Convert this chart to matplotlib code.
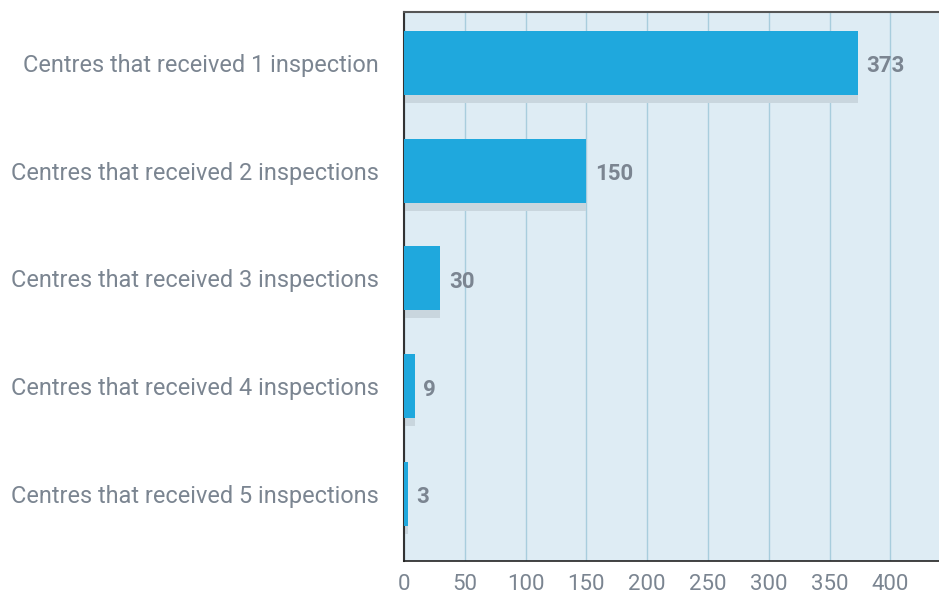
import numpy as np
import matplotlib.pyplot as plt

categories = ['Centres that received 1 inspection',
              'Centres that received 2 inspections',
              'Centres that received 3 inspections',
              'Centres that received 4 inspections',
              'Centres that received 5 inspections']
counts = [373, 150, 30, 9, 3]
xticks = [0, 50, 100, 150, 200, 250, 300, 350, 400]

bar_color = '#1fa8dd'
shadow_color = '#c9d6de'
bg_color = '#deecf4'
grid_color = '#a8cddd'
text_color = '#7b8591'

plt.rcParams['font.family'] = ['Roboto', 'DejaVu Sans']

fig = plt.figure(figsize=(9.39, 5.95), dpi=100)
ax = fig.add_axes([404 / 939, 1 - 561 / 595, 1 - 404 / 939, (561 - 12) / 595])
ax.set_facecolor(bg_color)

y = np.arange(len(categories))
h = 0.594
# grey drop shadow under each bar
ax.barh(y + 0.074, counts, height=h, color=shadow_color, zorder=2)
ax.barh(y, counts, height=h, color=bar_color, zorder=3)

for yi, v in zip(y, counts):
    ax.text(v + 7, yi + 0.03, str(v), va='center', ha='left', fontsize=16,
            fontweight='bold', color=text_color, zorder=4)

ax.set_xlim(0, 440)
ax.set_ylim(4.62, -0.47)
ax.set_xticks(xticks)
ax.set_xticklabels([str(t) for t in xticks], fontsize=16, color=text_color)
ax.set_yticks(y)
ax.set_yticklabels(categories, color=text_color, fontsize=16.9)
ax.tick_params(axis='both', length=0)
ax.tick_params(axis='x', pad=9)
ax.tick_params(axis='y', pad=18)

ax.set_axisbelow(True)
ax.grid(axis='x', color=grid_color, linewidth=1.0)
ax.grid(axis='y', visible=False)

ax.spines['right'].set_visible(False)
ax.spines['left'].set_color('#333333')
ax.spines['left'].set_linewidth(1.5)
ax.spines['bottom'].set_color('#222222')
ax.spines['bottom'].set_linewidth(1.2)
ax.spines['top'].set_color('#555555')
ax.spines['top'].set_linewidth(1.5)

fig.savefig('out.png', dpi=100)
